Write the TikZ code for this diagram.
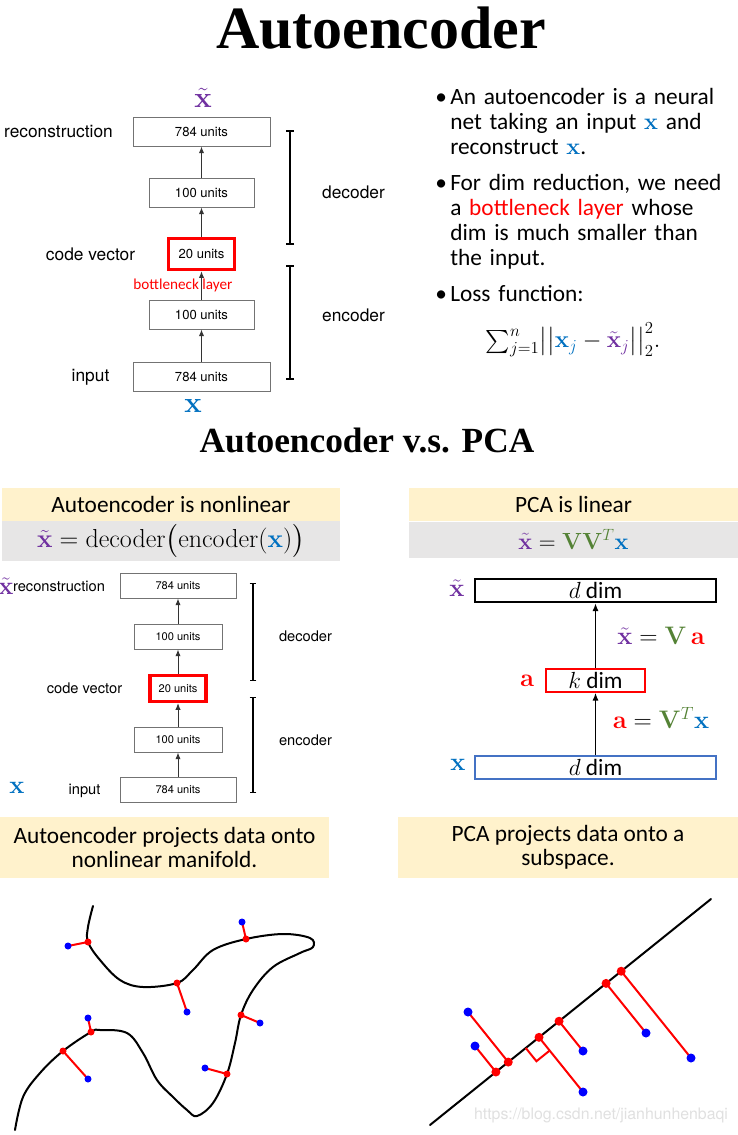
\RequirePackage{fix-cm}
\documentclass[tikz,border=0pt]{standalone}
\usepackage[no-math]{fontspec}
\setmainfont{Carlito}
\newfontfamily\herosfont{TeX Gyre Heros}
\newfontfamily\headfont{Liberation Serif}
\usepackage{amsmath}
\usetikzlibrary{arrows.meta,calc}
\definecolor{xblue}{HTML}{0070C0}
\definecolor{xpurple}{HTML}{7030A0}
\definecolor{vgreen}{HTML}{548235}
\definecolor{bandyellow}{HTML}{FFF2CC}
\definecolor{bandgray}{HTML}{E7E6E6}
\definecolor{boxblue}{HTML}{4472C4}
\newcommand{\xv}{\textcolor{xblue}{\mathbf{x}}}
\newcommand{\xt}{\textcolor{xpurple}{\tilde{\mathbf{x}}}}
\newcommand{\av}{\textcolor{red}{\mathbf{a}}}
\newcommand{\Vm}{\textcolor{vgreen}{\mathbf{V}}}
\tikzset{
  unitbox/.style={draw=black!55, line width=0.75pt, fill=white, inner sep=0pt,
    font=\herosfont\fontsize{9.8}{11}\selectfont},
  bigunit/.style={unitbox, minimum width=102.75pt, minimum height=21.75pt},
  midunit/.style={unitbox, minimum width=78.75pt, minimum height=21.75pt},
  codeunit/.style={unitbox, draw=red, line width=2.6pt, minimum width=49.5pt, minimum height=23.25pt},
  sunitbox/.style={unitbox, font=\herosfont\fontsize{8.3}{9}\selectfont},
  sbigunit/.style={sunitbox, minimum width=87pt, minimum height=18.75pt},
  smidunit/.style={sunitbox, minimum width=66pt, minimum height=18.75pt},
  scodeunit/.style={sunitbox, draw=red, line width=2.4pt, minimum width=42pt, minimum height=19.5pt},
  flow/.style={-{Latex[length=5pt,width=4pt]}, line width=0.75pt, draw=black!80},
  bracket/.style={{Bar[width=6pt]}-{Bar[width=6pt]}, line width=1.5pt},
  sbracket/.style={{Bar[width=5pt]}-{Bar[width=5pt]}, line width=1.1pt},
  sidelabel/.style={inner sep=0pt, font=\herosfont\fontsize{13}{15}\selectfont},
  ssidelabel/.style={inner sep=0pt, font=\herosfont\fontsize{11}{13}\selectfont},
  vecsym/.style={inner sep=0pt, font=\fontsize{22}{24}\selectfont},
  slidetext/.style={inner sep=0pt, font=\fontsize{17.5}{18.75}\selectfont},
  bullettext/.style={slidetext, text width=220pt, align=left, anchor=base west},
  band/.style={inner sep=0pt, font=\fontsize{17.5}{18}\selectfont, align=center},
  pcabox/.style={draw, line width=1.5pt, fill=white, minimum width=180.75pt, minimum height=17.25pt,
    inner sep=0pt, font=\fontsize{17.5}{19}\selectfont},
  pcaflow/.style={-{Latex[length=6pt,width=4.5pt]}, line width=1.3pt},
  pcalabel/.style={inner sep=0pt, font=\fontsize{19}{21}\selectfont},
  manifold/.style={line width=1.5pt, line cap=round},
  proj/.style={draw=red, line width=1.5pt},
}
\begin{document}
\begin{tikzpicture}[x=0.75pt,y=-0.75pt]
\useasboundingbox (0,0) rectangle (738,1135);
% titles
\node[inner sep=0pt, font=\headfont\bfseries\fontsize{45}{50}\selectfont] (title) at (381,28) {Autoencoder};
\node[inner sep=0pt, font=\headfont\bfseries\fontsize{26.5}{30}\selectfont] (subtitle) at (367,440) {Autoencoder v.s. PCA};

% top network
\node[bigunit] (t784) at (201.5,131.5) {784 units};
\node[midunit] (t100) at (201.5,192.5) {100 units};
\node[codeunit] (t20) at (201.5,254) {20 units};
\node[midunit] (t100b) at (201.5,314.5) {100 units};
\node[bigunit] (t784b) at (201.5,376.5) {784 units};
\draw[flow] (t784b) -- (t100b);
\draw[flow] (t100b) -- (t20);
\draw[flow] (t20) -- (t100);
\draw[flow] (t100) -- (t784);
\node[vecsym] (txt) at (203,98) {$\xt$};
\node[vecsym] (tx) at (193,406) {$\xv$};
\node[sidelabel] (trec) at (58.5,131.5) {reconstruction};
\node[sidelabel] (tcode) at (90.5,254) {code vector};
\node[sidelabel] (tin) at (90.5,377) {input};
\node[inner sep=0pt, text=red, font=\fontsize{11.4}{13}\selectfont] (tneck) at (183,285) {bottleneck layer};
\coordinate (tdecA) at (290,130);
\coordinate (tdecB) at (290,245);
\coordinate (tencA) at (290,265);
\coordinate (tencB) at (290,380);
\draw[bracket] (tdecA) -- (tdecB);
\draw[bracket] (tencA) -- (tencB);
\node[sidelabel] (tdec) at (353.5,192.5) {decoder};
\node[sidelabel] (tenc) at (353.5,315) {encoder};

% bullets
\node[slidetext, anchor=base west] (d1) at (435,104) {\textbullet};
\node[bullettext] (p1) at (450,104) {An autoencoder is a neural\\net taking an input $\xv$ and\\reconstruct $\xv$.};
\node[slidetext, anchor=base west] (d2) at (435,190) {\textbullet};
\node[bullettext] (p2) at (450,190) {For dim reduction, we need\\a \textcolor{red}{bottleneck layer} whose\\dim is much smaller than\\the input.};
\node[slidetext, anchor=base west] (d3) at (435,301) {\textbullet};
\node[bullettext] (p3) at (450,301) {Loss function:};
\node[inner sep=0pt, font=\fontsize{18}{19}\selectfont] (loss) at (573,340)
  {$\textstyle\sum_{j=1}^{n}\bigl|\bigl|\xv_{\textcolor{xblue}{j}}-\xt_{\textcolor{xpurple}{j}}\bigr|\bigr|_2^2.$};

% comparison headers
\node[band, fill=bandyellow, minimum width=253.5pt, minimum height=24.75pt] (lhead) at (171,504.5) {Autoencoder is nonlinear};
\node[band, fill=bandgray, minimum width=253.5pt, minimum height=30pt, font=\fontsize{19.5}{20}\selectfont] (lform) at (171,541)
  {$\xt=\mathrm{decoder}\bigl(\mathrm{encoder}(\xv)\bigr)$};
\node[band, fill=bandyellow, minimum width=246.75pt, minimum height=24.75pt] (rhead) at (573.5,504.5) {PCA is linear};
\node[band, fill=bandgray, minimum width=246.75pt, minimum height=27pt] (rform) at (573.5,539.5)
  {$\xt=\Vm\Vm^{\textcolor{vgreen}{T}}\xv$};

% small network
\node[sbigunit] (s784) at (178,585.5) {784 units};
\node[smidunit] (s100) at (178,636.5) {100 units};
\node[scodeunit] (s20) at (178,688.5) {20 units};
\node[smidunit] (s100b) at (178,739.5) {100 units};
\node[sbigunit] (s784b) at (178,789.5) {784 units};
\draw[flow] (s784b) -- (s100b);
\draw[flow] (s100b) -- (s20);
\draw[flow] (s20) -- (s100);
\draw[flow] (s100) -- (s784);
\node[vecsym, font=\fontsize{19}{21}\selectfont] (sxt) at (6,586) {$\xt$};
\node[vecsym, font=\fontsize{19}{21}\selectfont] (sx) at (17,788) {$\xv$};
\node[ssidelabel] (srec) at (59,586) {reconstruction};
\node[ssidelabel] (scode) at (84.5,688.5) {code vector};
\node[ssidelabel] (sin) at (84.5,790.5) {input};
\coordinate (sdecA) at (253,583);
\coordinate (sdecB) at (253,681);
\coordinate (sencA) at (253,697);
\coordinate (sencB) at (253,793);
\draw[sbracket] (sdecA) -- (sdecB);
\draw[sbracket] (sencA) -- (sencB);
\node[ssidelabel] (sdec) at (305.5,636) {decoder};
\node[ssidelabel] (senc) at (305.5,740) {encoder};

% PCA layers
\node[pcabox] (ptop) at (595.5,590.5) {$d$ dim};
\node[pcabox, draw=red, minimum width=74.1pt] (pmid) at (595.5,680) {$k$ dim};
\node[pcabox, draw=boxblue] (pbot) at (595.5,767.5) {$d$ dim};
\draw[pcaflow] (pbot) -- (pmid);
\draw[pcaflow] (pmid) -- (ptop);
\node[pcalabel] (pxt) at (457,588) {$\xt$};
\node[pcalabel] (pa) at (527,681) {$\av$};
\node[pcalabel] (px) at (458,765) {$\xv$};
\node[pcalabel] (pdec) at (661,636) {$\xt=\Vm\,\av$};
\node[pcalabel] (penc) at (661,718) {$\av=\Vm^{\textcolor{vgreen}{T}}\xv$};

% footers
\node[band, fill=bandyellow, minimum width=246.75pt, minimum height=45.75pt] (lfoot) at (164.5,847.5)
  {Autoencoder projects data onto\\nonlinear manifold.};
\node[band, fill=bandyellow, minimum width=255pt, minimum height=45.75pt] (rfoot) at (568,847.5)
  {PCA projects data onto a\\subspace.};

% manifold
\draw[manifold] plot[smooth, tension=0.6] coordinates {(93,906) (88,927) (88,942) (100,960) (120,980)
  (143,987) (177,983) (193,970) (213,950) (246,939) (283,934) (310,938) (313,947) (300,953) (273,967)
  (253,990) (241,1015) (235,1043) (227,1074) (213,1103) (197,1116) (187,1110) (173,1097) (157,1080)
  (143,1053) (127,1033) (100,1030) (91,1032) (63,1051) (40,1073) (23,1097) (15,1130)};
\coordinate (m1) at (88,942);   \coordinate (b1) at (68,946);
\coordinate (m2) at (246,939);  \coordinate (b2) at (242,922);
\coordinate (m3) at (177,983);  \coordinate (b3) at (187,1012);
\coordinate (m4) at (241,1015); \coordinate (b4) at (260,1023);
\coordinate (m5) at (91,1032);  \coordinate (b5) at (88,1018);
\coordinate (m6) at (63,1051);  \coordinate (b6) at (88,1079);
\coordinate (m7) at (227,1074); \coordinate (b7) at (205,1068);
\draw[proj] (m1) -- (b1); \draw[proj] (m2) -- (b2); \draw[proj] (m3) -- (b3);
\draw[proj] (m4) -- (b4); \draw[proj] (m5) -- (b5); \draw[proj] (m6) -- (b6);
\draw[proj] (m7) -- (b7);
\fill[red] (m1) circle (3.5) (m2) circle (3.5) (m3) circle (3.5) (m4) circle (3.5)
  (m5) circle (3.5) (m6) circle (3.5) (m7) circle (3.5);
\fill[blue] (b1) circle (3.5) (b2) circle (3.5) (b3) circle (3.5) (b4) circle (3.5)
  (b5) circle (3.5) (b6) circle (3.5) (b7) circle (3.5);

% subspace
\coordinate (sA) at (430,1125);
\coordinate (sB) at (711,899);
\coordinate (p1) at (468,1012);
\coordinate (p2) at (475,1046);
\coordinate (p3) at (583,1051);
\coordinate (p4) at (583,1092);
\coordinate (p5) at (646,1033);
\coordinate (p6) at (691,1058);
\coordinate (q1) at ($(sA)!(p1)!(sB)$);
\coordinate (q2) at ($(sA)!(p2)!(sB)$);
\coordinate (q3) at ($(sA)!(p3)!(sB)$);
\coordinate (q4) at ($(sA)!(p4)!(sB)$);
\coordinate (q5) at ($(sA)!(p5)!(sB)$);
\coordinate (q6) at ($(sA)!(p6)!(sB)$);
\draw[manifold] (sA) -- (sB);
\draw[proj] (p1) -- (q1); \draw[proj] (p2) -- (q2); \draw[proj] (p3) -- (q3);
\draw[proj] (p4) -- (q4); \draw[proj] (p5) -- (q5); \draw[proj] (p6) -- (q6);
\coordinate (r1) at ($(q4)!12.75pt!(sA)$);
\coordinate (r3) at ($(q4)!12.75pt!(p4)$);
\draw[proj] (r1) -- ($(r1)+(r3)-(q4)$) -- (r3);
\fill[red] (q1) circle (4.5) (q2) circle (4.5) (q3) circle (4.5) (q4) circle (4.5)
  (q5) circle (4.5) (q6) circle (4.5);
\fill[blue] (p1) circle (4.5) (p2) circle (4.5) (p3) circle (4.5) (p4) circle (4.5)
  (p5) circle (4.5) (p6) circle (4.5);
\node[inner sep=0pt, text=black!12, font=\herosfont\fontsize{11.9}{13}\selectfont] (mark) at (601,1115)
  {https://blog.csdn.net/jianhunhenbaqi};
\end{tikzpicture}
\end{document}
